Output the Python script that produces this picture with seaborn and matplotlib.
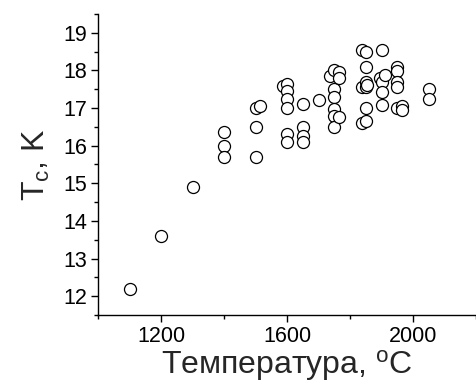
import matplotlib
matplotlib.use("Agg")
import matplotlib.pyplot as plt
import seaborn as sns
import pandas as pd
from matplotlib.ticker import MultipleLocator

# Synthesis temperature (C) and critical temperature Tc (K)
temperature = [1100, 1200, 1300,
               1400, 1400, 1400,
               1500, 1500, 1500, 1515,
               1588, 1600, 1600, 1600, 1600, 1600, 1600,
               1650, 1650, 1650, 1650,
               1700,
               1738, 1750, 1750, 1750, 1750, 1750, 1750, 1765, 1765, 1765,
               1837, 1837, 1837, 1850, 1850, 1850, 1850, 1850, 1850, 1855,
               1895, 1900, 1900, 1900, 1900, 1910,
               1950, 1950, 1950, 1950, 1950, 1965, 1965,
               2050, 2050]
tc = [12.2, 13.6, 14.9,
      16.35, 16.0, 15.7,
      17.0, 16.5, 15.7, 17.05,
      17.58, 17.65, 17.45, 17.23, 17.0, 16.3, 16.1,
      17.1, 16.5, 16.25, 16.1,
      17.2,
      17.85, 18.0, 17.5, 17.28, 16.98, 16.8, 16.5, 17.95, 17.8, 16.75,
      18.55, 17.55, 16.6, 18.5, 18.1, 17.7, 17.55, 17.0, 16.65, 17.6,
      17.8, 18.55, 17.7, 17.42, 17.08, 17.87,
      18.1, 17.97, 17.7, 17.55, 17.0, 17.05, 16.95,
      17.5, 17.25]

df = pd.DataFrame({"T": temperature, "Tc": tc})

sns.set_style("white")
plt.rcParams['font.family'] = ['Liberation Sans', 'DejaVu Sans']
plt.rcParams['mathtext.fontset'] = 'custom'
plt.rcParams['mathtext.rm'] = 'Liberation Sans'
plt.rcParams['mathtext.it'] = 'Liberation Sans'

fig = plt.figure(figsize=(4.76, 3.86), dpi=100)
ax = fig.add_axes([0.206, 0.184, 0.794, 0.78])

sns.scatterplot(data=df, x="T", y="Tc", ax=ax, s=75, facecolor="white",
                edgecolor="black", linewidth=0.9, marker="o")

ax.set_xlim(1000, 2200)
ax.set_ylim(11.5, 19.5)
ax.xaxis.set_major_locator(MultipleLocator(400))
ax.xaxis.set_minor_locator(MultipleLocator(200))
ax.yaxis.set_major_locator(MultipleLocator(1))
ax.yaxis.set_minor_locator(MultipleLocator(0.5))
ax.tick_params(which="major", direction="out", length=5, width=1, colors="black",
               labelsize=15.5, bottom=True, left=True, pad=3)
ax.tick_params(which="minor", direction="out", length=3, width=1, colors="black",
               bottom=True, left=True)

for side in ["top", "right"]:
    ax.spines[side].set_visible(False)
for side in ["left", "bottom"]:
    ax.spines[side].set_color("black")
    ax.spines[side].set_linewidth(1)

ax.set_xlabel("Температура, $\\mathregular{^{o}}$C", fontsize=23, labelpad=1)
ax.set_ylabel("$\\mathregular{T_c}$, K", fontsize=23, labelpad=8)

fig.savefig("out.png", dpi=100)
